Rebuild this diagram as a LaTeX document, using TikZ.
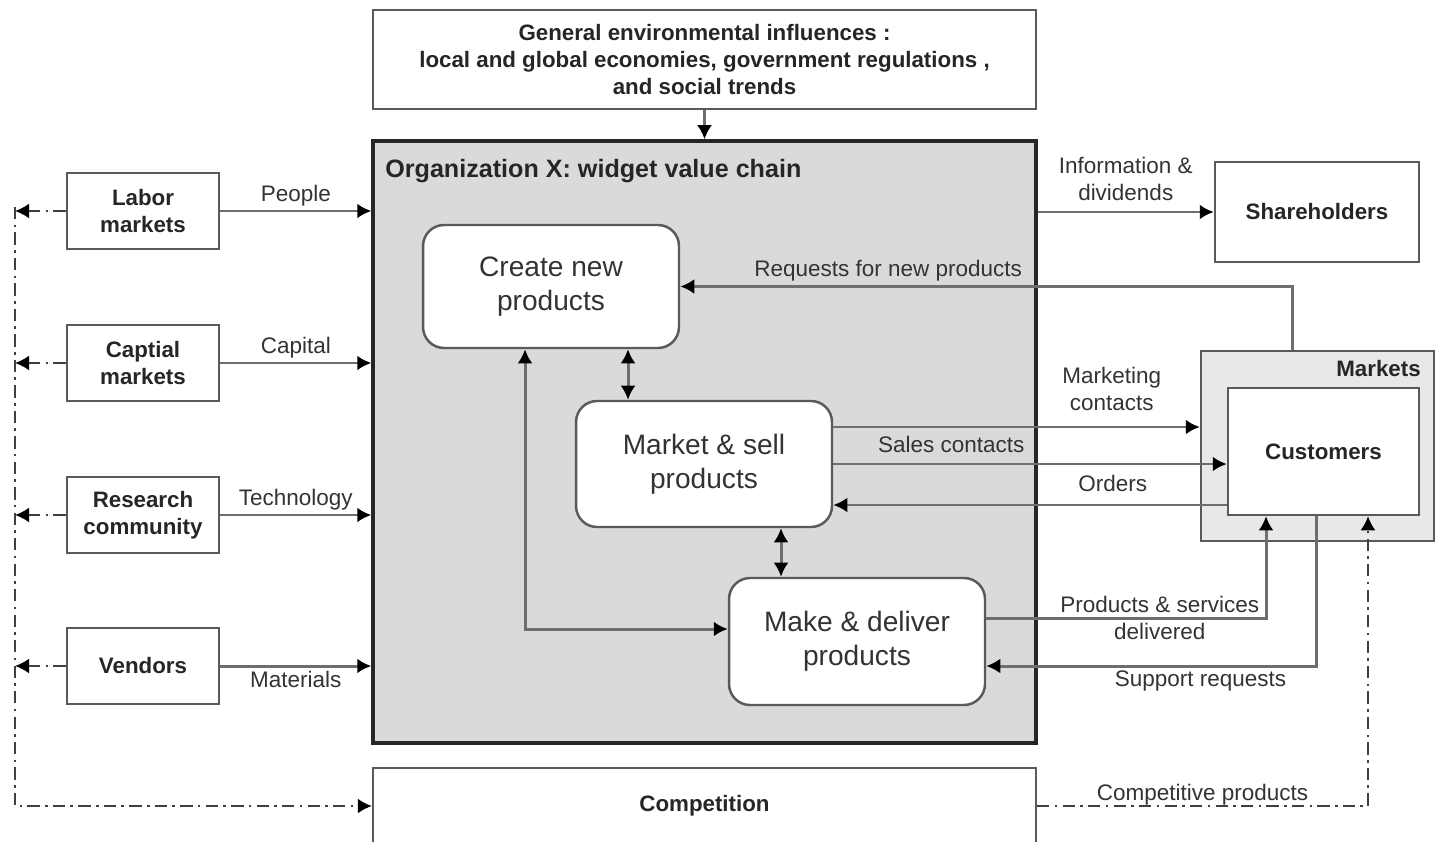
\documentclass[tikz,border=0pt]{standalone}
\usepackage{fontspec}
\setmainfont{Liberation Sans}
\usetikzlibrary{arrows.meta}

\definecolor{orgfill}{HTML}{DADADA}
\definecolor{mktfill}{HTML}{E8E8E8}
\definecolor{wire}{HTML}{6E6E6E}
\definecolor{edge}{HTML}{5A5A5A}
\definecolor{ink}{HTML}{333333}

\tikzset{
  >={Latex[length=8pt,width=8.5pt,color=black]},
  extbox/.style={draw=edge, line width=1.4pt, fill=white, inner sep=0pt, align=center,
    font=\bfseries\fontsize{12.7}{15.4}\selectfont, text=black!85},
  sidebox/.style={extbox, minimum width=3.04cm, minimum height=1.52cm},
  task/.style={draw=edge, line width=1.4pt, fill=white, rounded corners=0.42cm, inner sep=0pt,
    align=center, minimum width=5.12cm, font=\fontsize{16}{19.3}\selectfont, text=ink},
  flow/.style={draw=wire, line width=1.7pt, ->},
  both/.style={draw=wire, line width=1.7pt, <->},
  rival/.style={draw=black!75, line width=1.1pt, dash pattern=on 7pt off 3pt on 1.5pt off 3pt, ->},
  lbl/.style={font=\fontsize{12.8}{15.4}\selectfont, text=ink, align=center, inner sep=2pt},
}

\begin{document}
\begin{tikzpicture}[x=0.02cm, y=-0.02cm]

    \useasboundingbox (0,0) rectangle (1435,841);

    % environment and the organization
    \node[extbox, minimum width=13.26cm, minimum height=1.98cm] (env) at (704.5,59.5)
        {General environmental influences :\\local and global economies, government regulations ,\\and social trends};
    \node[draw=black!85, line width=2pt, fill=orgfill, minimum width=13.26cm, minimum height=12.04cm] (org) at (704.5,442) {};
    \node[anchor=west, inner sep=0pt, font=\bfseries\fontsize{14.3}{17}\selectfont, text=black!85] (orgtitle) at (385,171)
        {Organization X: widget value chain};

    \node[task, minimum height=2.46cm] (create) at (551,286.5) {Create new\\products};
    \node[task, minimum height=2.52cm] (market) at (704,464) {Market \& sell\\products};
    \node[task, minimum height=2.54cm] (make) at (857,641.5) {Make \& deliver\\products};

    % suppliers on the left
    \node[sidebox] (labor) at (143,211) {Labor\\markets};
    \node[sidebox] (capital) at (143,363) {Captial\\markets};
    \node[sidebox] (research) at (143,515) {Research\\community};
    \node[sidebox] (vendors) at (143,666) {Vendors};

    % shareholders and markets on the right
    \node[extbox, minimum width=4.08cm, minimum height=2cm] (share) at (1317,212) {Shareholders};
    \node[draw=edge, line width=1.4pt, fill=mktfill, minimum width=4.66cm, minimum height=3.8cm] (mkts) at (1317.5,446) {};
    \node[anchor=east, inner sep=0pt, font=\bfseries\fontsize{12.7}{15.4}\selectfont, text=black!85] (mktstitle) at (1421,369) {Markets};
    \node[extbox, minimum width=3.82cm, minimum height=2.54cm] (cust) at (1323.5,451.5) {Customers};

    \node[extbox, minimum width=13.26cm, minimum height=1.52cm] (comp) at (704.5,806) {Competition};

    % inputs
    \draw[flow] (env.south) -- (org.north);
    \draw[flow] (labor.east) -- (labor.east -| org.west) node[lbl, midway, above] (lpeople) {People};
    \draw[flow] (capital.east) -- (capital.east -| org.west) node[lbl, midway, above] (lcapital) {Capital};
    \draw[flow] (research.east) -- (research.east -| org.west) node[lbl, midway, above] (ltech) {Technology};
    \draw[flow] (vendors.east) -- (vendors.east -| org.west) node[lbl, midway, below] (lmat) {Materials};

    % inside the value chain
    \draw[both] (create.south -| 628,0) -- (market.north -| 628,0);
    \draw[both] (market.south -| 781,0) -- (make.north -| 781,0);
    \draw[both] (create.south -| 525,0) |- (make.west |- 0,629);

    % outputs
    \draw[flow] (org.east |- share.west) -- (share.west) node[lbl, midway, above, yshift=3.4pt] (linfo) {Information \&\\dividends};
    \draw[flow] (mkts.north -| 1292,0) |- (create.east) node[lbl, above, pos=0.83] (lreq) {Requests for new products};
    \draw[flow] (market.east |- 0,427) -- (mkts.west |- 0,427) node[lbl, above, pos=0.76, yshift=6.3pt] (lmkt) {Marketing\\contacts};
    \draw[flow] (market.east |- 0,464) -- (cust.west |- 0,464) node[lbl, above, pos=0.3, yshift=3.4pt] (lsales) {Sales contacts};
    \draw[flow] (cust.west |- 0,505) -- (market.east |- 0,505) node[lbl, above, pos=0.29, yshift=4.5pt] (lorders) {Orders};
    \draw[flow] (make.east |- 0,618) -| (cust.south -| 1266,0) node[lbl, pos=0.31] (lprod) {Products \& services\\delivered};
    \draw[flow] (cust.south -| 1316,0) |- (make.east |- 0,666) node[lbl, below, pos=0.675] (lsupport) {Support requests};

    % competition
    \coordinate (railtop) at (15,207);
    \coordinate (railbot) at (15,806);
    \foreach \src in {labor,capital,research,vendors}
        \draw[rival] (\src.west) -- (\src.west -| railtop);
    \draw[rival] (railtop) -- (railbot) -- (comp.west);
    \draw[rival] (comp.east) -| (cust.south -| 1368,0) node[lbl, above, inner sep=0pt, pos=0.25] (lcomp) {Competitive products};

\end{tikzpicture}
\end{document}
